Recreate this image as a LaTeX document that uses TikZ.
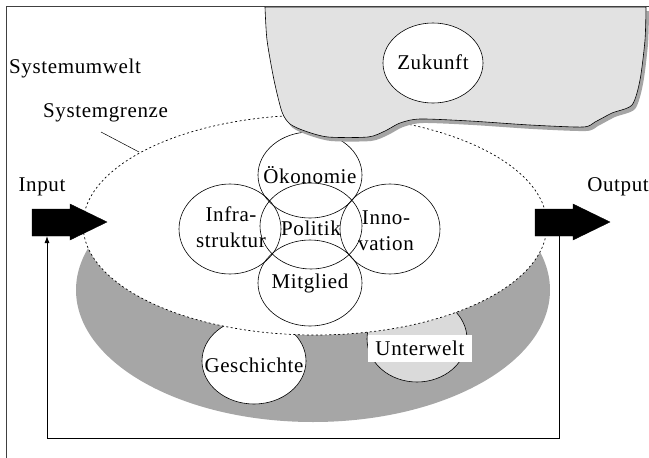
\documentclass[tikz,border=0pt]{standalone}
\usepackage{fontspec}
\setmainfont[LetterSpace=3]{Liberation Serif}
\usetikzlibrary{shapes.geometric,arrows.meta}
\definecolor{cloudgray}{RGB}{226,226,226}
\definecolor{shadowgray}{RGB}{165,165,165}
\definecolor{basegray}{RGB}{166,166,166}
\definecolor{undergray}{RGB}{218,218,218}
\begin{document}
\begin{tikzpicture}[x=1pt,y=-1pt,
  lbl/.style={font=\fontsize{21}{26}\selectfont, inner sep=0pt, align=center},
  bubble/.style={ellipse, draw, line width=0.6pt, minimum width=104pt, minimum height=86pt, inner sep=0pt},
  blockarrow/.style={fill=black, draw=black, line width=0.4pt},
  thinline/.style={line width=0.7pt}]
\useasboundingbox (0,0) rectangle (649,458);
% frame
\coordinate (fBL) at (6,458);
\coordinate (fTL) at (6,6);
\coordinate (fTR) at (649,6);
\draw[line width=1pt, black!75] (fBL) -- (fTL) -- (fTR);
% gray lower region
\node[ellipse, fill=basegray, minimum width=474pt, minimum height=264pt, inner sep=0pt] (base) at (313,290) {};
% Geschichte and Unterwelt
\node[bubble, fill=white] (gesch) at (254,361) {};
\node[lbl] (geschT) at (254,365) {Geschichte};
\node[bubble, fill=undergray, minimum width=100pt, minimum height=86pt] (unter) at (417,339) {};
% system boundary
\node[ellipse, fill=white, draw, dash pattern=on 2pt off 2.5pt, line width=0.7pt, minimum width=464pt, minimum height=220pt, inner sep=0pt] (sys) at (315,225) {};
% inner bubbles
\node[bubble] (oek) at (310,175) {};
\node[bubble, minimum width=102pt, minimum height=90pt] (infra) at (230,229) {};
\node[bubble, minimum width=102pt, minimum height=86pt] (pol) at (311,226) {};
\node[bubble, minimum width=100pt, minimum height=90pt] (inno) at (390,229) {};
\node[bubble] (mit) at (310,283) {};
\node[lbl] (oekT) at (310,175) {Ökonomie};
\node[lbl] (infraT) at (231,227) {Infra-\\struktur};
\node[lbl] (polT) at (311,228) {Politik};
\node[lbl] (innoT) at (386,231) {Inno-\\vation};
\node[lbl] (mitT) at (310,283) {Mitglied};
% Unterwelt label box
\node[lbl, fill=white, minimum width=104pt, minimum height=27pt] (unterT) at (420,348) {Unterwelt};
% cloud (Zukunft)
\fill[shadowgray, shift={(3,4)}] plot[smooth, tension=0.45] coordinates {(265,7) (267,40) (274,80) (282,112) (290,124) (305,131) (328,137) (368,137) (385,131) (400,123) (420,119) (470,121) (530,125) (583,127) (595,122) (612,113) (632,105) (640,80) (645,40) (646,7)} -- cycle;
\draw[fill=cloudgray, line width=0.6pt] plot[smooth, tension=0.45] coordinates {(265,7) (267,40) (274,80) (282,112) (290,124) (305,131) (328,137) (368,137) (385,131) (400,123) (420,119) (470,121) (530,125) (583,127) (595,122) (612,113) (632,105) (640,80) (645,40) (646,7)} -- cycle;
\draw[black!75, line width=1pt] (265,6) -- (fTR);
\node[ellipse, draw, fill=white, line width=0.6pt, minimum width=100pt, minimum height=80pt, inner sep=0pt] (zuk) at (433,63) {};
\node[lbl] (zukT) at (433,62) {Zukunft};
% labels
\node[lbl, anchor=west] (umwelt) at (9,68) {Systemumwelt};
\node[lbl, anchor=west] (grenze) at (43,113) {Systemgrenze};
\coordinate (sgA) at (101,132);
\coordinate (sgB) at (139,152);
\draw[line width=0.5pt] (sgA) -- (sgB);
\node[lbl] (input) at (42,187) {Input};
\node[lbl] (output) at (618,187) {Output};
% block arrows
\draw[blockarrow] (32,209) -- (70,209) -- (70,204) -- (107,222) -- (70,240) -- (70,236) -- (32,236) -- cycle;
\draw[blockarrow] (535,209) -- (573,209) -- (573,204) -- (610,222) -- (573,240) -- (573,236) -- (535,236) -- cycle;
\coordinate (inArr) at (47,236);
\coordinate (outArr) at (559,236);
\coordinate (fbR) at (559,438);
\coordinate (fbL) at (47,438);
\draw[line width=0.9pt, -{Latex[length=7pt,width=5pt]}] (outArr) -- (fbR) -- (fbL) -- (inArr);
\end{tikzpicture}
\end{document}
